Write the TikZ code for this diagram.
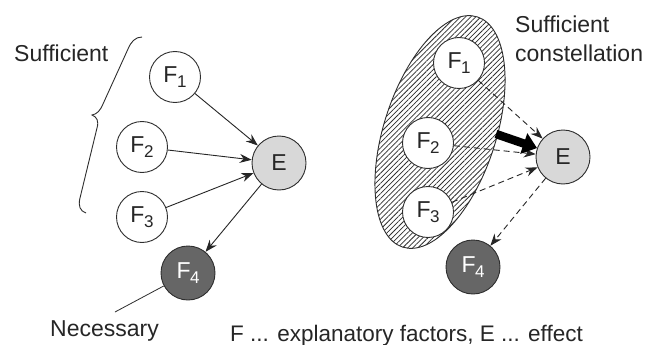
\documentclass[tikz,border=0pt]{standalone}
\usepackage{fontspec}
\setmainfont{Liberation Sans}
\usetikzlibrary{arrows.meta,shapes.geometric,patterns.meta}
\definecolor{ln}{HTML}{2E2E2E}
\definecolor{egray}{HTML}{D8D8D8}
\definecolor{dgray}{HTML}{666666}
\newcommand{\facsub}[1]{\kern-0.5pt\raisebox{-5.5pt}{\fontsize{17}{17}\selectfont #1}}
\begin{document}
\begin{tikzpicture}[x=1pt,y=-1pt,
  fac/.style={circle,draw=ln,line width=0.9pt,fill=white,minimum size=51pt,inner sep=0pt,font=\fontsize{23}{25}\selectfont,text=black!85},
  eff/.style={fac,fill=egray,minimum size=54pt},
  nec/.style={fac,fill=dgray,text=white,minimum size=54pt},
  arr/.style={-{Stealth[length=12pt,width=9pt]},line width=0.9pt,draw=black!85},
  darr/.style={arr,dash pattern=on 6pt off 4pt},
  lbl/.style={font=\fontsize{23}{26}\selectfont,anchor=base west,inner sep=0pt,text=black!85}]
\useasboundingbox[fill=white] (0,0) rectangle (645,345);

% ---------- left diagram ----------
\node[fac] (a1) at (175,77) {F\facsub{1}};
\node[fac] (a2) at (142,147) {F\facsub{2}};
\node[fac] (a3) at (142,217) {F\facsub{3}};
\node[eff] (ae) at (279,163) {E};
\node[nec] (a4) at (188,273) {F\facsub{4}};
\draw[arr] (a1) -- (ae);
\draw[arr] (a2) -- (ae);
\draw[arr] (a3) -- (ae);
\draw[arr] (ae) -- (a4);

\node[lbl] (suf) at (14,62) {Sufficient};
\node[lbl] (nec) at (50,336) {Necessary};
\coordinate (np) at (115,312);
\draw[line width=0.8pt,draw=ln] (a4) -- (np);

% brace
\draw[line width=0.9pt,draw=ln]
  (142,37) .. controls (135,37) and (131,42) .. (128,49)
  -- (103,104) .. controls (100,111) and (97,114) .. (92,115)
  .. controls (97,117) and (99,121) .. (97,128)
  -- (80,198) .. controls (78,206) and (80,211) .. (86,213);

% ---------- right diagram ----------
\node[ellipse,draw=ln,line width=0.9pt,
  pattern={Lines[angle=45,distance=3.6pt,line width=0.75pt]},pattern color=ln,
  minimum width=112pt,minimum height=242pt,inner sep=0pt,rotate=-18] (grp) at (440,132) {};
\node[fac] (b1) at (459,63) {F\facsub{1}};
\node[fac] (b2) at (428,143) {F\facsub{2}};
\node[fac] (b3) at (428,212) {F\facsub{3}};
\node[eff] (be) at (563,157) {E};
\node[nec] (b4) at (473,267) {F\facsub{4}};
\draw[darr] (b1) -- (be);
\draw[darr] (b2) -- (be);
\draw[darr] (b3) -- (be);
\draw[darr] (be) -- (b4);
\coordinate (ts) at (496,134);
\draw[line width=8.5pt,-{Triangle[length=14pt,width=21pt]}] (ts) -- (be);

\node[lbl] (sc1) at (515,33) {Sufficient};
\node[lbl] (sc2) at (515,62) {constellation};

\node[lbl,font=\fontsize{22.5}{26}\selectfont] (leg) at (230,341) {F ... explanatory factors, E ... effect};
\end{tikzpicture}
\end{document}
